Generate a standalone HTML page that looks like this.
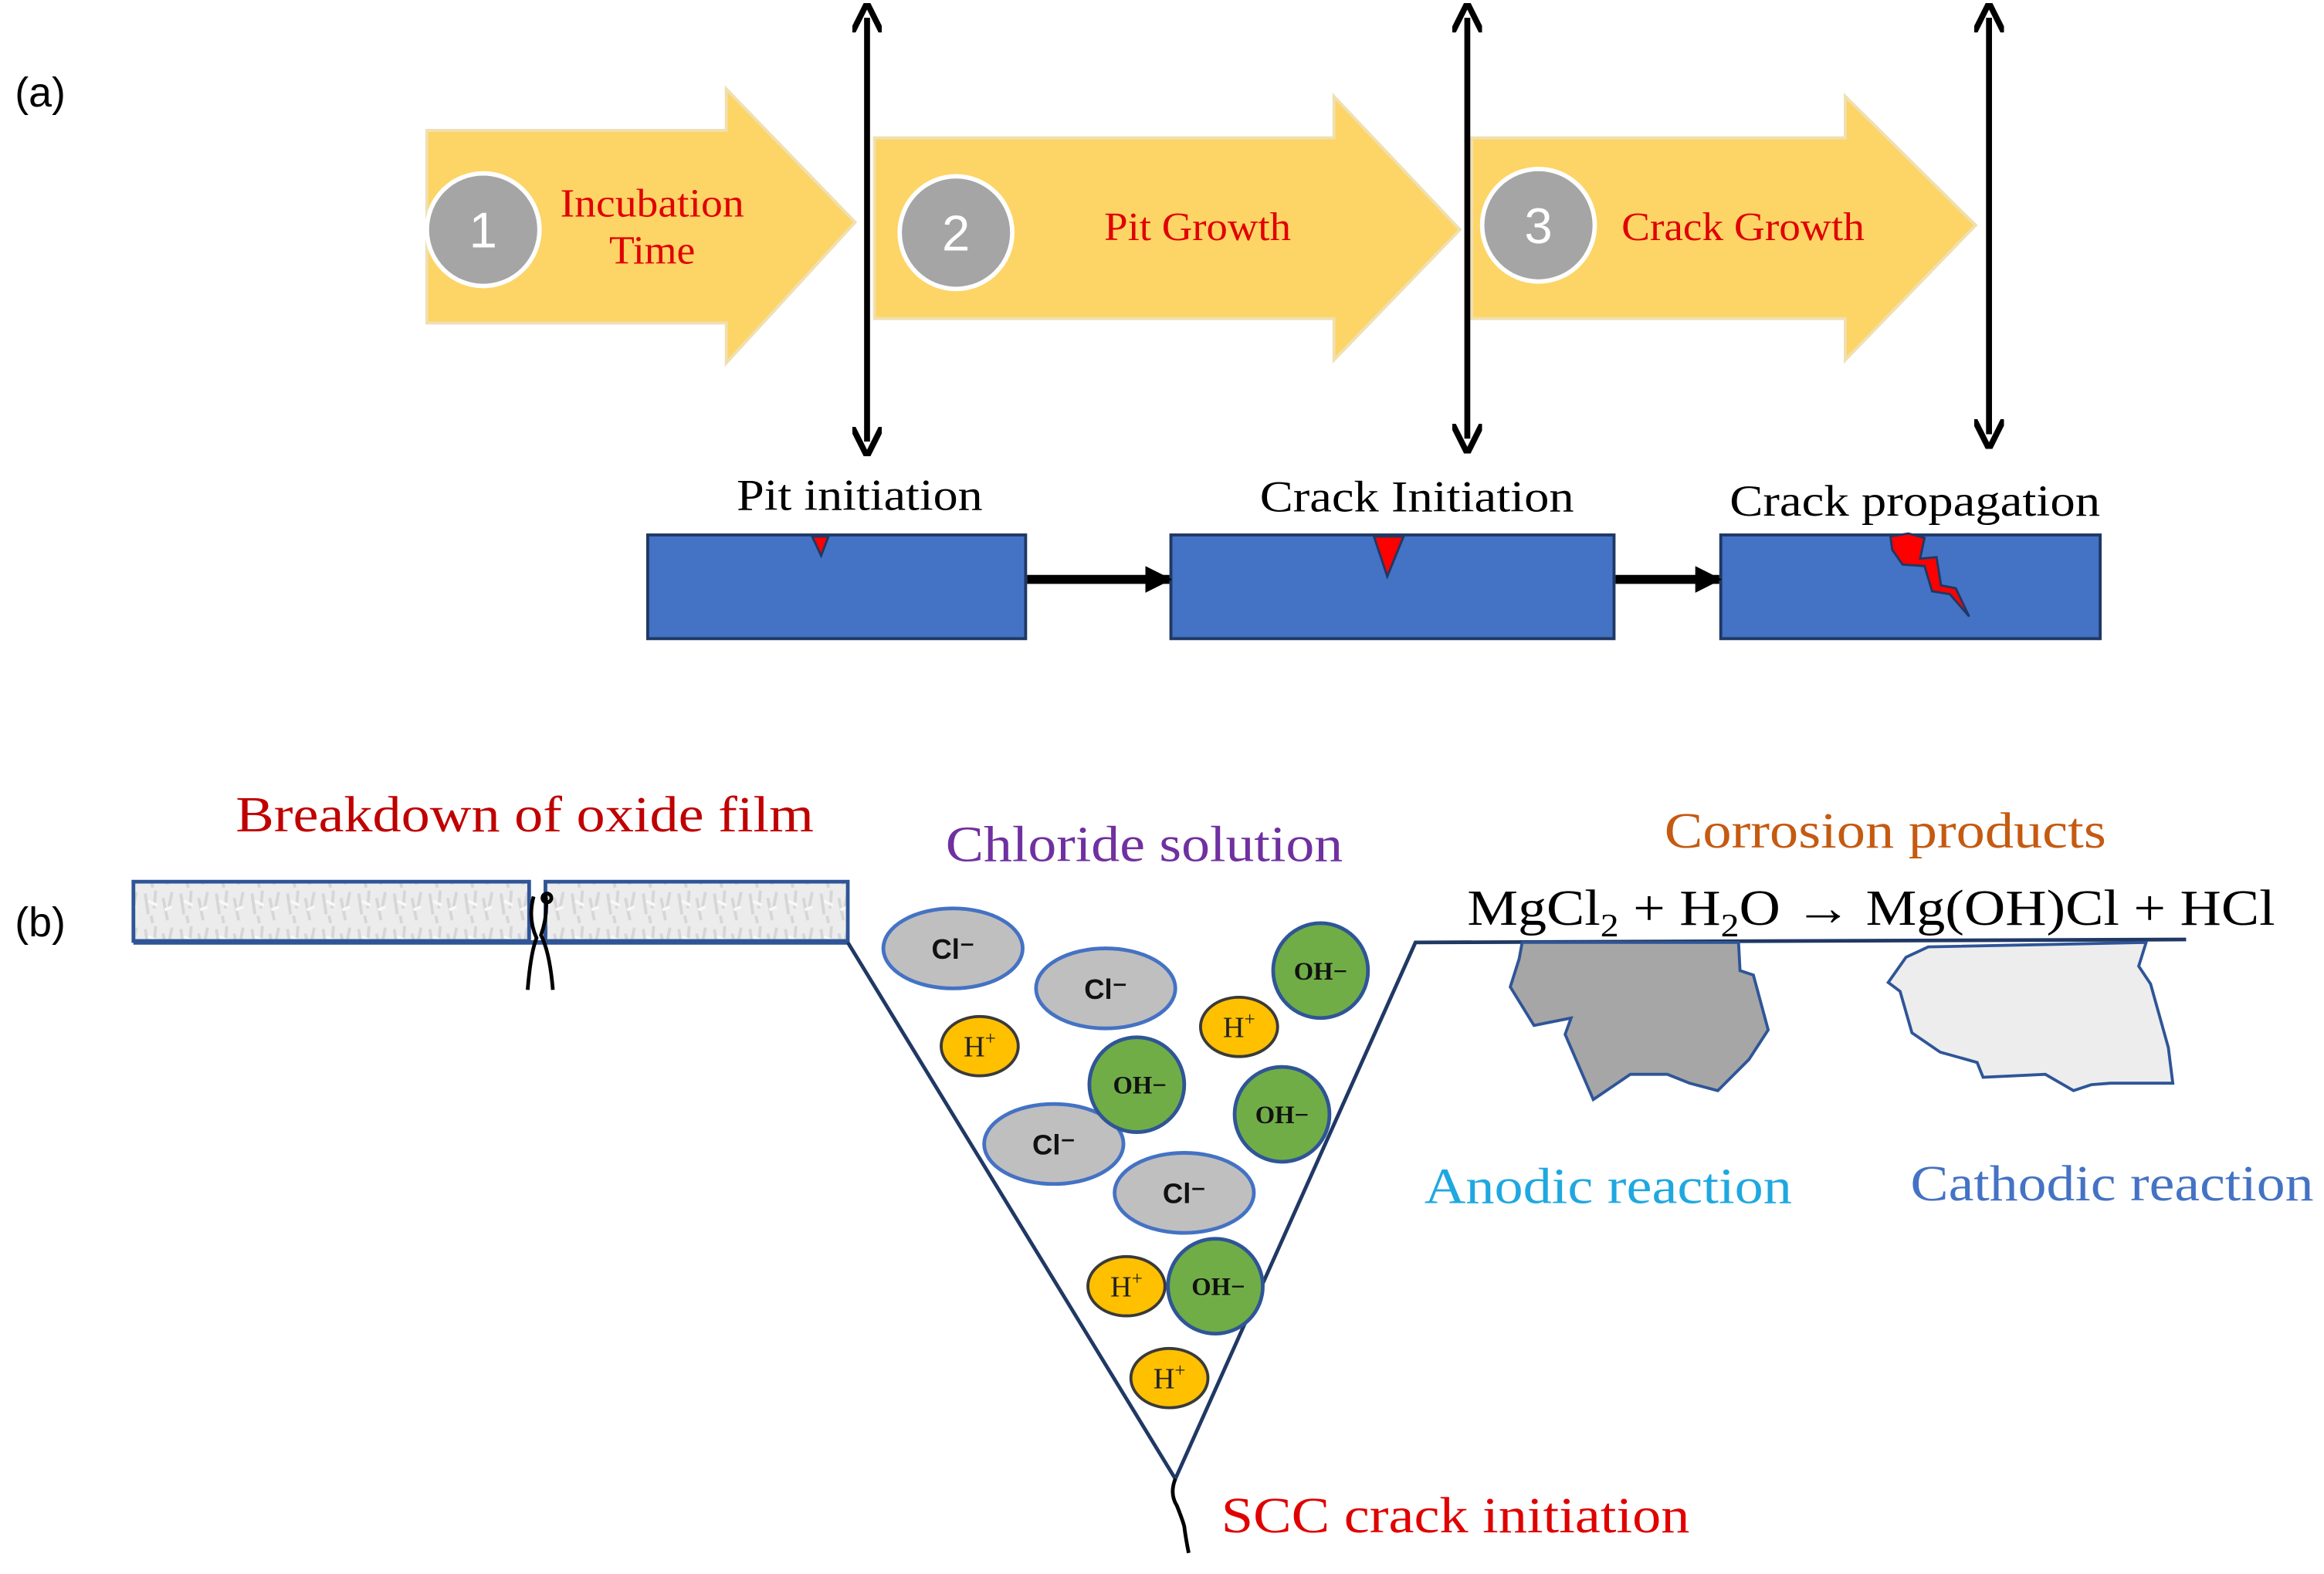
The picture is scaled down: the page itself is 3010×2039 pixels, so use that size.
<!DOCTYPE html>
<html><head><meta charset="utf-8"><style>html,body{margin:0;padding:0;background:#fff}svg{display:block}</style></head>
<body>
<svg width="3010" height="2039" viewBox="0 0 1568 1062.2" xmlns="http://www.w3.org/2000/svg">
<defs>
<marker id="ah" viewBox="0 0 10 10" refX="5" refY="5" markerWidth="5" markerHeight="5" orient="auto-start-reverse"><path d="M0,0 L10,5 L0,10" fill="none" stroke="#000" stroke-width="2"/></marker>
<marker id="fh" viewBox="0 0 10 10" refX="9" refY="5" markerWidth="3" markerHeight="3" orient="auto"><path d="M0,0 L10,5 L0,10 z" fill="#000"/></marker>
<pattern id="spk" width="24" height="24" patternUnits="userSpaceOnUse"><rect width="24" height="24" fill="#ececec"/><path d="M2,3 l2,14 M9,1 l-1,12 M14,6 l3,15 M20,2 l-2,10 M6,18 l1,5" stroke="#d6d6d6" stroke-width="2"/><path d="M4,8 l6,3 M15,14 l5,-2" stroke="#f8f8f8" stroke-width="2"/></pattern>
</defs>
<g font-family="Liberation Serif, serif">
<text x="10" y="72" font-family="Liberation Sans, sans-serif" font-size="28">(a)</text>
<text x="10" y="632" font-family="Liberation Sans, sans-serif" font-size="28">(b)</text>

<!-- big arrows -->
<g fill="#FDD466" stroke="#f0e0b0" stroke-width="2">
<polygon points="288,88 490,88 490,60 577,150 490,245 490,218 288,218"/>
<polygon points="590,93 900,93 900,65 985,155 900,243 900,215 590,215"/>
<polygon points="993,93 1245,93 1245,65 1333,152 1245,243 1245,215 993,215"/>
</g>
<g fill="#A5A5A5" stroke="#fff" stroke-width="3">
<circle cx="326" cy="155" r="38"/><circle cx="645" cy="157" r="38"/><circle cx="1038" cy="152" r="38"/>
</g>
<g fill="#fff" font-family="Liberation Sans, sans-serif" font-size="34" text-anchor="middle">
<text x="326" y="167">1</text><text x="645" y="169">2</text><text x="1038" y="164">3</text>
</g>
<g fill="#E00000" font-size="27" text-anchor="middle">
<text x="440" y="146" textLength="124" lengthAdjust="spacingAndGlyphs">Incubation</text>
<text x="440" y="178" textLength="58" lengthAdjust="spacingAndGlyphs">Time</text>
<text x="808" y="162" textLength="126" lengthAdjust="spacingAndGlyphs">Pit Growth</text>
<text x="1176" y="162" textLength="164" lengthAdjust="spacingAndGlyphs">Crack Growth</text>
</g>

<!-- vertical double arrows -->
<g stroke="#000" stroke-width="4">
<line x1="585" y1="12" x2="585" y2="298" marker-start="url(#ah)" marker-end="url(#ah)"/>
<line x1="990" y1="12" x2="990" y2="296" marker-start="url(#ah)" marker-end="url(#ah)"/>
<line x1="1342" y1="12" x2="1342" y2="293" marker-start="url(#ah)" marker-end="url(#ah)"/>
</g>

<g fill="#000" font-size="30" text-anchor="middle">
<text x="580" y="344" textLength="166" lengthAdjust="spacingAndGlyphs">Pit initiation</text>
<text x="956" y="345" textLength="212" lengthAdjust="spacingAndGlyphs">Crack Initiation</text>
<text x="1292" y="348" textLength="250" lengthAdjust="spacingAndGlyphs">Crack propagation</text>
</g>

<g fill="#4472C4" stroke="#1f3864" stroke-width="2">
<rect x="437" y="361" width="255" height="70"/>
<rect x="790" y="361" width="299" height="70"/>
<rect x="1161" y="361" width="256" height="70"/>
</g>
<g stroke="#000" stroke-width="6">
<line x1="693" y1="391" x2="789" y2="391" marker-end="url(#fh)"/>
<line x1="1090" y1="391" x2="1160" y2="391" marker-end="url(#fh)"/>
</g>
<g fill="#ff0000" stroke="#1f3864" stroke-width="1.5">
<polygon points="548,362 559,362 554,375"/>
<polygon points="927,362 947,362 936,389"/>
<polygon points="1275.5,362 1287.6,360 1298.5,363 1295.5,377 1306.6,376 1309.6,395 1319.6,397 1328.6,416 1315.6,401 1303.6,399 1298.5,382 1283.7,381 1276.7,371"/>
</g>

<!-- part b -->
<text x="354" y="561" fill="#C00000" font-size="34" text-anchor="middle" textLength="390" lengthAdjust="spacingAndGlyphs">Breakdown of oxide film</text>
<text x="772" y="581" fill="#7030A0" font-size="34" text-anchor="middle" textLength="268" lengthAdjust="spacingAndGlyphs">Chloride solution</text>
<text x="1272" y="572" fill="#C55A11" font-size="34" text-anchor="middle" textLength="298" lengthAdjust="spacingAndGlyphs">Corrosion products</text>
<text x="990" y="624" fill="#000" font-size="34" textLength="545" lengthAdjust="spacingAndGlyphs">MgCl<tspan font-size="22" dy="8">2</tspan><tspan dy="-8"> + H</tspan><tspan font-size="22" dy="8">2</tspan><tspan dy="-8">O → Mg(OH)Cl + HCl</tspan></text>

<g stroke="#2F5597" stroke-width="2.5" fill="url(#spk)">
<rect x="90" y="595" width="267" height="40"/>
<rect x="368" y="595" width="204" height="40"/>
</g>
<line x1="90" y1="636" x2="572" y2="636" stroke="#2F5597" stroke-width="3"/>
<g stroke="#000" stroke-width="2.5" fill="none">
<path d="M360,605 q-4,15 2,28 q-4,10 -6,35"/>
<path d="M368,603 q2,14 -3,28 q6,12 8,37"/>
<circle cx="369" cy="606" r="3"/>
</g>

<polyline points="572,636 793,998 955,636 1475,634" fill="none" stroke="#203864" stroke-width="2.5"/>
<path d="M793,998 q-4,10 1,18 q4,10 5,14 q1,8 3,18" fill="none" stroke="#000" stroke-width="2.5"/>

<polygon points="1027,636 1173,636 1174,655 1183,658 1193,695 1180,715 1159,736 1140,731 1125,725 1100,725 1075,742 1056,698 1060,687 1035,692 1019,666 1025,647" fill="#A6A6A6" stroke="#2F5597" stroke-width="2"/>
<polygon points="1301,639 1286,646 1274,663 1282,669 1290,697 1309,710 1334,717 1338,727 1380,725 1399,736 1411,732 1424,731 1466,731 1463,707 1451,664 1443,652 1448,636" fill="#EDEDED" stroke="#2F5597" stroke-width="2"/>

<text x="1085" y="812" fill="#1FA8E0" font-size="34" text-anchor="middle" textLength="248" lengthAdjust="spacingAndGlyphs">Anodic reaction</text>
<text x="1425" y="810" fill="#4472C4" font-size="34" text-anchor="middle" textLength="272" lengthAdjust="spacingAndGlyphs">Cathodic reaction</text>
<text x="982" y="1034" fill="#E00000" font-size="34" text-anchor="middle" textLength="316" lengthAdjust="spacingAndGlyphs">SCC crack initiation</text>

<!-- ions -->
<g fill="#BFBFBF" stroke="#4472C4" stroke-width="2.5">
<ellipse cx="643" cy="640" rx="47" ry="27"/><ellipse cx="746" cy="667" rx="47" ry="27"/>
<ellipse cx="711" cy="772" rx="47" ry="27"/><ellipse cx="799" cy="805" rx="47" ry="27"/>
</g>
<g fill="#FFC000" stroke="#3a3a3a" stroke-width="2">
<ellipse cx="661" cy="706" rx="26" ry="20"/><ellipse cx="836" cy="693" rx="26" ry="20"/>
<ellipse cx="760" cy="868" rx="26" ry="20"/><ellipse cx="789" cy="930" rx="26" ry="20"/>
</g>
<g fill="#70AD47" stroke="#2F5597" stroke-width="2.5">
<circle cx="891" cy="655" r="32"/><circle cx="767" cy="732" r="32"/>
<circle cx="865" cy="752" r="32"/><circle cx="820" cy="868" r="32"/>
</g>
<g font-family="Liberation Sans, sans-serif" font-weight="bold" font-size="19" text-anchor="middle" fill="#111">
<text x="643" y="647">Cl⁻</text><text x="746" y="674">Cl⁻</text><text x="711" y="779">Cl⁻</text><text x="799" y="812">Cl⁻</text>
</g>
<g font-weight="bold" font-size="17" text-anchor="middle" fill="#111">
<text x="891" y="661">OH−</text><text x="769" y="738">OH−</text><text x="865" y="758">OH−</text><text x="822" y="874">OH−</text>
</g>
<g font-size="20" text-anchor="middle" fill="#222">
<text x="661" y="713">H<tspan font-size="13" dy="-8">+</tspan></text>
<text x="836" y="700">H<tspan font-size="13" dy="-8">+</tspan></text>
<text x="760" y="875">H<tspan font-size="13" dy="-8">+</tspan></text>
<text x="789" y="937">H<tspan font-size="13" dy="-8">+</tspan></text>
</g>
</g>
</svg>
</body></html>
